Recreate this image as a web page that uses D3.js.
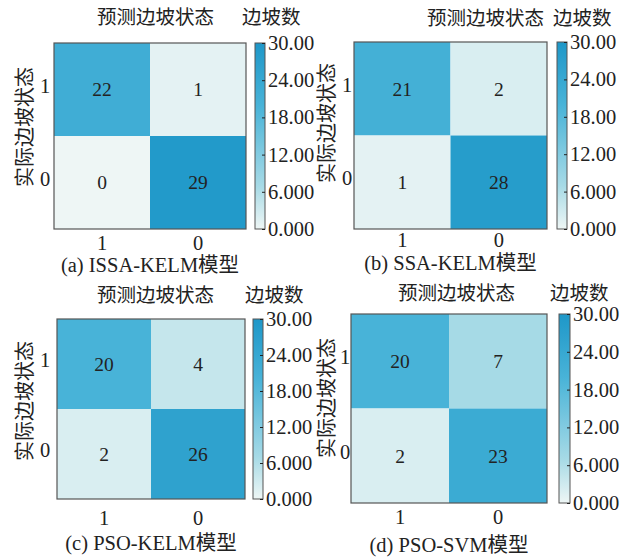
<!DOCTYPE html>
<html><head><meta charset="utf-8">
<script src="https://cdn.jsdelivr.net/npm/d3@7"></script>
<style>
html,body{margin:0;padding:0;background:#fff;}
svg{display:block;}
text{font-family:"Liberation Serif","Noto Sans CJK SC",serif;fill:#222;}
.cjk{font-family:"Noto Sans CJK SC","Liberation Serif",sans-serif;}
</style></head>
<body>
<script>
// ---- data ----
const rowLabels = ["1", "0"];          // 实际边坡状态
const colLabels = ["1", "0"];          // 预测边坡状态
const captions = ["(a) ISSA-KELM模型", "(b) SSA-KELM模型", "(c) PSO-KELM模型", "(d) PSO-SVM模型"];
const matrixA = [[22, 1], [0, 29]];
const matrixB = [[21, 2], [1, 28]];
const matrixC = [[20, 4], [2, 26]];
const matrixD = [[20, 7], [2, 23]];
const matrices = [matrixA, matrixB, matrixC, matrixD];
const colorbarTicks = [0, 6, 12, 18, 24, 30];
const colorDomain = [0, 30];
const xTitle = "预测边坡状态";
const yTitle = "实际边坡状态";
const cbTitle = "边坡数";

// ---- layout (positions only) ----
const layouts = [
  {hx:[54,246], hy:[43,229], cbx:[255,265], t1:[97,17], t2:[242,17], yl:[25,127], ytx:45, xty:243, capy:265},
  {hx:[354,547], hy:[42,229], cbx:[557,567], t1:[427,18], t2:[553,18], yl:[327,123], ytx:347, xty:240, capy:263},
  {hx:[57,245], hy:[319,499], cbx:[253,263], t1:[97,295], t2:[245,295], yl:[25,401], ytx:45, xty:518, capy:543},
  {hx:[351,547], hy:[314,503], cbx:[559,570], t1:[398,293], t2:[550,293], yl:[327,398], ytx:345, xty:517, capy:545}
];
const colorStops = [[0, "#eef6f5"], [7, "#a6dae6"], [20, "#48b3d8"], [30, "#1e97c8"]];

const W = 630, H = 557;
const svg = d3.select("body").append("svg").attr("width", W).attr("height", H);
const color = d3.scaleLinear().domain(colorStops.map(d => d[0])).range(colorStops.map(d => d[1])).clamp(true);
const fmt = d3.format(".4r");
const FS = 19.5, FSL = 20.5;

const defs = svg.append("defs");
const grad = defs.append("linearGradient").attr("id", "cbgrad")
  .attr("x1", 0).attr("y1", 1).attr("x2", 0).attr("y2", 0);
d3.range(0, 31, 1).forEach(v => {
  grad.append("stop").attr("offset", (v - colorDomain[0]) / (colorDomain[1] - colorDomain[0])).attr("stop-color", color(v));
});

matrices.forEach((m, i) => {
  const L = layouts[i];
  const g = svg.append("g");
  const x = d3.scaleBand().domain(colLabels).range(L.hx);
  const y = d3.scaleBand().domain(rowLabels).range(L.hy);

  const cells = [];
  rowLabels.forEach((r, ri) => colLabels.forEach((c, ci) => cells.push({r, c, v: m[ri][ci]})));

  g.selectAll("rect.cell").data(cells).enter().append("rect")
    .attr("class", "cell")
    .attr("x", d => x(d.c)).attr("y", d => y(d.r))
    .attr("width", x.bandwidth()).attr("height", y.bandwidth())
    .attr("fill", d => color(d.v));

  g.append("rect").attr("x", L.hx[0]).attr("y", L.hy[0])
    .attr("width", L.hx[1] - L.hx[0]).attr("height", L.hy[1] - L.hy[0])
    .attr("fill", "none").attr("stroke", "#555").attr("stroke-width", 1.2);

  g.selectAll("text.val").data(cells).enter().append("text")
    .attr("class", "val")
    .attr("x", d => x(d.c) + x.bandwidth() / 2)
    .attr("y", d => y(d.r) + y.bandwidth() / 2)
    .attr("dy", "0.35em").attr("text-anchor", "middle")
    .attr("font-size", FS).text(d => d.v);

  // x tick labels
  g.selectAll("text.xt").data(colLabels).enter().append("text")
    .attr("x", d => x(d) + x.bandwidth() / 2).attr("y", L.xty)
    .attr("dy", "0.35em").attr("text-anchor", "middle").attr("font-size", FSL).text(d => d);
  // y tick labels
  g.selectAll("text.yt").data(rowLabels).enter().append("text")
    .attr("x", L.ytx).attr("y", d => y(d) + y.bandwidth() / 2 - 4)
    .attr("dy", "0.35em").attr("text-anchor", "middle").attr("font-size", FSL).text(d => d);

  // titles
  g.append("text").attr("class", "cjk").attr("x", L.t1[0]).attr("y", L.t1[1]).attr("dy", "0.35em")
    .attr("font-size", FS).text(xTitle);
  g.append("text").attr("class", "cjk").attr("x", L.t2[0]).attr("y", L.t2[1]).attr("dy", "0.35em")
    .attr("font-size", FS).text(cbTitle);
  g.append("text").attr("class", "cjk")
    .attr("transform", `translate(${L.yl[0]},${L.yl[1]}) rotate(-90)`)
    .attr("dy", "0.35em").attr("text-anchor", "middle").attr("font-size", 20).text(yTitle);

  // caption
  g.append("text").attr("x", (L.hx[0] + L.hx[1]) / 2).attr("y", L.capy).attr("dy", "0.35em")
    .attr("text-anchor", "middle").attr("font-size", FSL).text(captions[i]);

  // colorbar
  const cy = d3.scaleLinear().domain(colorDomain).range([L.hy[1], L.hy[0]]);
  g.append("rect").attr("x", L.cbx[0]).attr("y", L.hy[0])
    .attr("width", L.cbx[1] - L.cbx[0]).attr("height", L.hy[1] - L.hy[0])
    .attr("fill", "url(#cbgrad)").attr("stroke", "#555").attr("stroke-width", 1);
  const axis = d3.axisRight(cy).tickValues(colorbarTicks).tickFormat(fmt).tickSize(-3).tickPadding(6);
  const ag = g.append("g").attr("transform", `translate(${L.cbx[1]},0)`).call(axis);
  ag.select(".domain").remove();
  ag.selectAll("line").attr("stroke", "#222");
  ag.selectAll("text").attr("font-size", FSL).attr("fill", "#222")
    .attr("font-family", "Liberation Serif").attr("x", 3);
});
</script>
</body></html>
